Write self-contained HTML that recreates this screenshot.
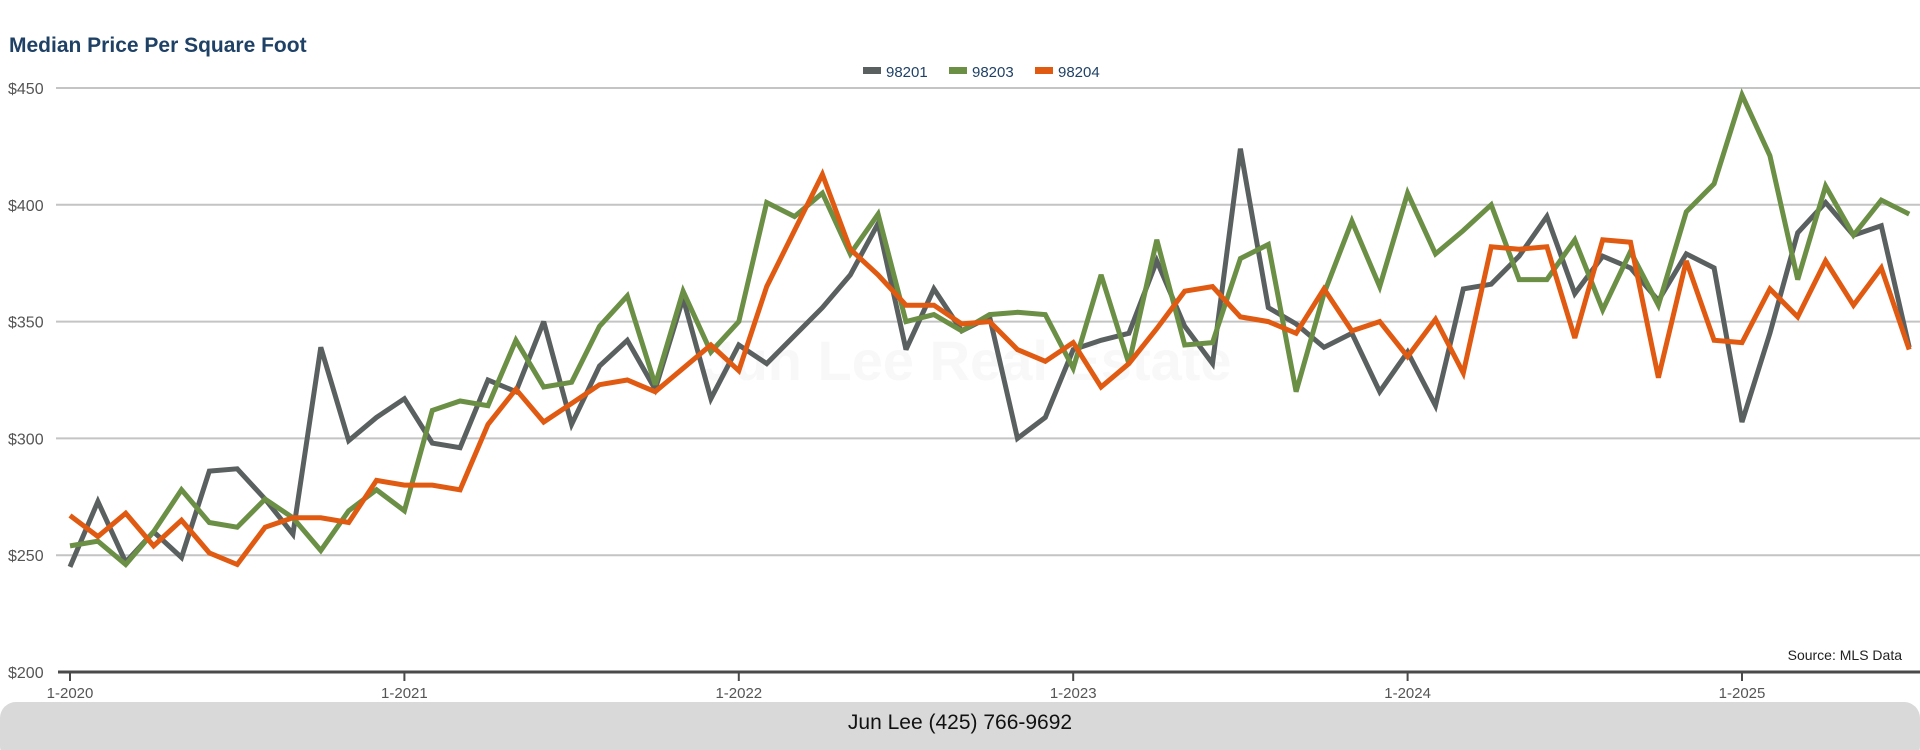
<!DOCTYPE html>
<html><head><meta charset="utf-8"><style>
html,body{margin:0;padding:0;background:#fff;}
body{width:1920px;height:750px;overflow:hidden;position:relative;font-family:"Liberation Sans",sans-serif;}
</style></head><body>
<svg id="chart" width="1920" height="750" xmlns="http://www.w3.org/2000/svg" style="position:absolute;left:0;top:0">
<text x="9" y="52" font-family="Liberation Sans, sans-serif" font-weight="bold" font-size="21" fill="#1f4166">Median Price Per Square Foot</text>
<text x="967" y="380" text-anchor="middle" font-family="Liberation Sans, sans-serif" font-weight="bold" font-size="56" fill="#f8f8f8">Jun Lee Real Estate</text>
<g id="grid"></g><g id="series"></g><g id="axes"></g><g id="legend"></g>
<text x="1902" y="660" text-anchor="end" font-family="Liberation Sans, sans-serif" font-size="14" fill="#222">Source: MLS Data</text>
<rect x="0" y="702" width="1920" height="60" rx="16" fill="#d9d9d9"/>
<text x="960" y="729" text-anchor="middle" font-family="Liberation Sans, sans-serif" font-size="21" fill="#111">Jun Lee (425) 766-9692</text>
</svg>
<script>
const seriesNames = ["98201","98203","98204"];
const seriesColors = ["#59605f","#6a8f45","#e05a12"];
const yTicks = [200,250,300,350,400,450];
const yTickLabels = ["$200","$250","$300","$350","$400","$450"];
const xTickMonths = [0,12,24,36,48,60];
const xTickLabels = ["1-2020","1-2021","1-2022","1-2023","1-2024","1-2025"];
const s98201 = [245,273,247,260,249,286,287,274,259,339,299,309,317,298,296,325,320,350,306,331,342,321,360,317,340,332,344,356,370,392,338,364,346,352,300,309,338,342,345,376,348,332,424,356,349,339,345,320,337,314,364,366,378,395,362,378,373,359,379,373,307,345,388,401,387,391,339];
const s98203 = [254,256,246,260,278,264,262,274,266,252,269,278,269,312,316,314,342,322,324,348,361,323,363,337,350,401,395,405,379,396,350,353,346,353,354,353,330,370,332,385,340,341,377,383,320,362,393,365,405,379,389,400,368,368,385,355,380,357,397,409,447,421,368,408,387,402,396];
const s98204 = [267,258,268,254,265,251,246,262,266,266,264,282,280,280,278,306,321,307,315,323,325,320,330,340,329,365,389,413,381,370,357,357,349,350,338,333,341,322,332,347,363,365,352,350,345,364,346,350,335,351,328,382,381,382,343,385,384,326,376,342,341,364,352,376,357,373,338];
const allSeries = [s98201,s98203,s98204];

const NS="http://www.w3.org/2000/svg";
function xPos(i){return 70 + i*(1742-70)/60;}
function yPos(v){return 672 - (v-200)*(672-88)/250;}
function mk(tag,attrs,parent){const e=document.createElementNS(NS,tag);for(const k in attrs)e.setAttribute(k,attrs[k]);parent.appendChild(e);return e;}

const grid=document.getElementById('grid'), axes=document.getElementById('axes'), ser=document.getElementById('series'), leg=document.getElementById('legend');
yTicks.forEach((v,k)=>{
  if(v>200){const l=mk('line',{x1:56,x2:1920,y1:yPos(v),y2:yPos(v),stroke:'#c4c4c4','stroke-width':2},grid);
  
  }
  const t=mk('text',{x:8,y:yPos(v)+6,'font-size':16,fill:'#555','font-family':'Liberation Sans, sans-serif'},axes);
  t.textContent=yTickLabels[k];
  
  
});
const ax=mk('line',{x1:58,x2:1920,y1:672,y2:672,stroke:'#4a4a4a','stroke-width':3},axes);


xTickMonths.forEach((m,k)=>{
  const tk=mk('line',{x1:xPos(m),x2:xPos(m),y1:672,y2:681,stroke:'#4a4a4a','stroke-width':2},axes);
  
  
  const t=mk('text',{x:xPos(m),y:698,'font-size':15,fill:'#555','text-anchor':'middle','font-family':'Liberation Sans, sans-serif'},axes);
  t.textContent=xTickLabels[k];
  
  
});
allSeries.forEach((arr,s)=>{
  const pts=arr.map((v,i)=>xPos(i).toFixed(1)+','+yPos(v).toFixed(1)).join(' ');
  const p=mk('polyline',{points:pts,fill:'none',stroke:seriesColors[s],'stroke-width':5,'stroke-linejoin':'miter','stroke-miterlimit':3},ser);
  
  
});
let lx=863;
seriesNames.forEach((n,s)=>{
  const r=mk('rect',{x:lx,y:67,width:18,height:7,fill:seriesColors[s]},leg);
  
  
  const t=mk('text',{x:lx+23,y:77,'font-size':15,fill:'#1f4166','font-family':'Liberation Sans, sans-serif'},leg);
  t.textContent=n;
  
  
  lx+=86;
});
</script>
</body></html>
